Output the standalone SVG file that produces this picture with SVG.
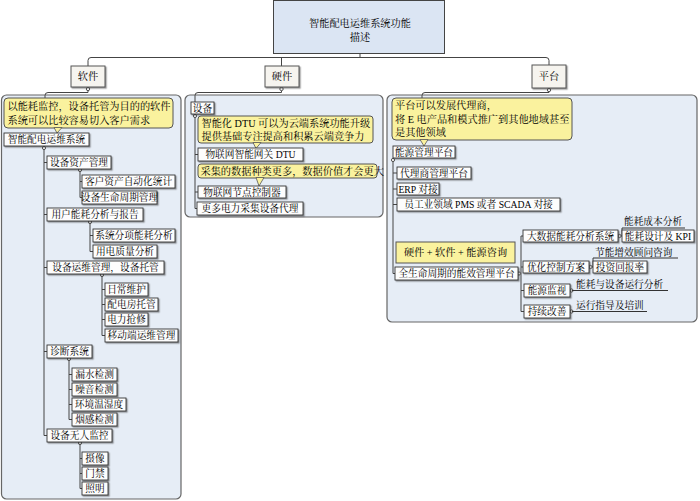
<svg xmlns="http://www.w3.org/2000/svg" width="700" height="501" viewBox="0 0 700 501">
<defs>
<filter id="sh" x="-10%" y="-20%" width="130%" height="160%">
<feDropShadow dx="1.2" dy="1.2" stdDeviation="0.4" flood-color="#333" flood-opacity="0.5"/>
</filter>
</defs>
<style>
text{font-family:"Liberation Serif","Noto Serif CJK SC","Noto Sans CJK SC",serif;font-size:9.7px;fill:#000}
.c{text-anchor:middle}
.root{fill:#dbe5f3;stroke:#444;stroke-width:1}
.cat{fill:#f6f4ef;stroke:#555;stroke-width:1;filter:url(#sh)}
.panel{fill:#e6edf6;stroke:#666;stroke-width:1.2}
.n{fill:#fdfdfd;stroke:#333;stroke-width:0.9;filter:url(#sh)}
.y{fill:#faf29e;stroke:#555;stroke-width:1}
.ln{fill:none;stroke:#444;stroke-width:1}
.ul{fill:none;stroke:#333;stroke-width:1}
.dot{fill:#fff;stroke:#444;stroke-width:0.9}
.tl{fill:#faf29e;stroke:#555;stroke-width:0.8}
.big{font-size:10.2px}
</style>

<!-- panels -->
<g id="panel-software"><rect class="panel" x="1.5" y="95" width="179.5" height="404" rx="5"/></g>
<g id="panel-hardware"><rect class="panel" x="185" y="95" width="198" height="122" rx="5"/></g>
<g id="panel-platform"><rect class="panel" x="387" y="95" width="310" height="227" rx="5"/></g>

<g id="connectors">
<path class="ln" d="M360,54 V57.5"/>
<path class="ln" d="M88,66 V60.5 Q88,57.5 91,57.5 H546 Q549,57.5 549,60.5 V65"/>
<path class="ln" d="M281.5,57.5 V66"/>
<path class="ln" d="M88,89 V92.5 H48 Q45,92.5 45,95.5 V98"/>
<path class="ln" d="M281.5,89 V92.5 H198 Q195,92.5 195,95.5 V102"/>
<path class="ln" d="M549,90 V92.5 H425 Q422,92.5 422,95.5 V98"/>
<path class="ln" d="M44,148 V435.5 M44,162.5 H47 M44,214.5 H47 M44,267.5 H47 M44,351.5 H47 M44,435.5 H47"/>
<path class="ln" d="M80,170 V197.5 M80,181.5 H82 M80,197.5 H82"/>
<path class="ln" d="M90,222 V251.5 M90,235.5 H93 M90,251.5 H93"/>
<path class="ln" d="M102,275 V335.5 M102,289.5 H105 M102,304.5 H105 M102,319.5 H105 M102,335.5 H105"/>
<path class="ln" d="M69,359 V419.5 M69,374.5 H72 M69,389.5 H72 M69,404.5 H72 M69,419.5 H72"/>
<path class="ln" d="M80,443 V488.5 M80,458.5 H82 M80,473.5 H82 M80,488.5 H82"/>
<path class="ln" d="M195,116 V208.5 M195,154.5 H198 M195,192 H198 M195,208.5 H197"/>
<path class="ln" d="M393,160 V273.5 M393,173 H397 M393,189 H397 M393,204.5 H397 M393,273.5 H395"/>
<path class="ln" d="M519,273.5 H521 M521,236 V311.5 M521,236 H523 M521,267 H523 M521,290.5 H524 M521,311.5 H524"/>
<path class="ln" d="M619,236 H622 M622,228 V236"/>
<path class="ln" d="M590,267 H593 M593,258 V267"/>
<path class="ln" d="M570,290.5 H572"/>
<path class="ln" d="M570,311.5 H572"/>
<circle class="dot" cx="88" cy="89" r="1.7"/>
<circle class="dot" cx="281.5" cy="89" r="1.7"/>
<circle class="dot" cx="549" cy="90" r="1.7"/>
<circle class="dot" cx="44" cy="148" r="1.6"/>
<circle class="dot" cx="80" cy="170" r="1.6"/>
<circle class="dot" cx="90" cy="222" r="1.6"/>
<circle class="dot" cx="102" cy="275" r="1.6"/>
<circle class="dot" cx="69" cy="359" r="1.6"/>
<circle class="dot" cx="80" cy="443" r="1.6"/>
<circle class="dot" cx="195" cy="116" r="1.6"/>
<circle class="dot" cx="393" cy="160" r="1.6"/>
<circle class="dot" cx="519" cy="273.5" r="1.6"/>
<circle class="dot" cx="619.5" cy="236" r="1.6"/>
<circle class="dot" cx="590.5" cy="267" r="1.6"/>
<circle class="dot" cx="571.5" cy="290.5" r="1.6"/>
<circle class="dot" cx="571.5" cy="311.5" r="1.6"/>
</g>

<g id="root"><rect class="root" x="273.5" y="0.5" width="171" height="53"/>
<text class="c big" x="360" y="27">智能配电运维系统功能</text>
<text class="c big" x="360" y="41">描述</text></g>

<g id="software"><rect class="cat" x="71" y="66" width="34" height="21"/><text class="c big" x="88" y="80">软件</text></g>
<g id="hardware"><rect class="cat" x="265" y="66" width="34" height="21"/><text class="c big" x="282" y="80">硬件</text></g>
<g id="platform"><rect class="cat" x="532" y="65" width="34" height="23"/><text class="c big" x="549" y="80">平台</text></g>

<g id="sw-callout"><rect class="y" x="4" y="98" width="169" height="30" rx="4"/>
<polygon class="tl" points="54,127.5 62,127.5 57,133"/>
<text class="big" x="7.5" y="109.5">以能耗监控，设备托管为目的的软件</text>
<text class="big" x="7.5" y="123.5">系统可以比较容易切入客户需求</text></g>
<g id="sw-system"><rect class="n" x="4" y="133" width="85" height="13"/><text class="c" x="46.5" y="143.2">智能配电运维系统</text></g>
<g id="sw-asset"><rect class="n" x="47" y="156" width="64" height="13"/><text class="c" x="79" y="166.2">设备资产管理</text></g>
<g id="sw-asset-1"><rect class="n" x="82" y="175" width="93" height="13"/><text class="c" x="128.5" y="185.2">客户资产自动化统计</text></g>
<g id="sw-asset-2"><rect class="n" x="82" y="191" width="75" height="13"/><text class="c" x="119.5" y="201.2">设备生命周期管理</text></g>
<g id="sw-energy"><rect class="n" x="47" y="208" width="96" height="13"/><text class="c" x="95" y="218.2">用户能耗分析与报告</text></g>
<g id="sw-energy-1"><rect class="n" x="93" y="229" width="82" height="13"/><text class="c" x="134" y="239.2">系统分项能耗分析</text></g>
<g id="sw-energy-2"><rect class="n" x="93" y="245" width="64" height="13"/><text class="c" x="125" y="255.2">用电质量分析</text></g>
<g id="sw-om"><rect class="n" x="47" y="261" width="117" height="13"/><text class="c" x="105.5" y="271.2">设备运维管理，设备托管</text></g>
<g id="sw-om-1"><rect class="n" x="105" y="283" width="43" height="13"/><text class="c" x="126.5" y="293.2">日常维护</text></g>
<g id="sw-om-2"><rect class="n" x="105" y="298" width="53" height="13"/><text class="c" x="131.5" y="308.2">配电房托管</text></g>
<g id="sw-om-3"><rect class="n" x="105" y="313" width="43" height="13"/><text class="c" x="126.5" y="323.2">电力抢修</text></g>
<g id="sw-om-4"><rect class="n" x="105" y="329" width="73" height="13"/><text class="c" x="141.5" y="339.2">移动端运维管理</text></g>
<g id="sw-diag"><rect class="n" x="47" y="345" width="45" height="13"/><text class="c" x="69.5" y="355.2">诊断系统</text></g>
<g id="sw-diag-1"><rect class="n" x="72" y="368" width="45" height="13"/><text class="c" x="94.5" y="378.2">漏水检测</text></g>
<g id="sw-diag-2"><rect class="n" x="72" y="383" width="45" height="13"/><text class="c" x="94.5" y="393.2">噪音检测</text></g>
<g id="sw-diag-3"><rect class="n" x="72" y="398" width="54" height="13"/><text class="c" x="99" y="408.2">环境温湿度</text></g>
<g id="sw-diag-4"><rect class="n" x="72" y="413" width="45" height="13"/><text class="c" x="94.5" y="423.2">烟感检测</text></g>
<g id="sw-mon"><rect class="n" x="47" y="429" width="65" height="13"/><text class="c" x="79.5" y="439.2">设备无人监控</text></g>
<g id="sw-mon-1"><rect class="n" x="82" y="452" width="26" height="13"/><text class="c" x="95" y="462.2">摄像</text></g>
<g id="sw-mon-2"><rect class="n" x="82" y="467" width="26" height="13"/><text class="c" x="95" y="477.2">门禁</text></g>
<g id="sw-mon-3"><rect class="n" x="82" y="482" width="26" height="13"/><text class="c" x="95" y="492.2">照明</text></g>

<g id="hw-device"><rect class="n" x="191" y="102" width="23" height="12"/><text class="c" x="202.5" y="111.7">设备</text></g>
<g id="hw-callout-1"><rect class="y" x="198" y="116" width="175" height="27" rx="3"/>
<polygon class="tl" points="253,142.5 261,142.5 256,148.5"/>
<text class="big" x="201.5" y="127">智能化 DTU 可以为云端系统功能升级</text>
<text class="big" x="201.5" y="140">提供基础专注提高和积累云端竞争力</text></g>
<g id="hw-gateway"><rect class="n" x="198" y="148" width="105" height="13"/><text class="c" x="250.5" y="158.2">物联网智能网关 DTU</text></g>
<g id="hw-callout-2"><rect class="y" x="198" y="164" width="179" height="14" rx="3"/>
<polygon class="tl" points="256,177.5 264,177.5 259,186"/>
<text class="big" x="200.5" y="174.8">采集的数据种类更多，数据价值才会更大</text></g>
<g id="hw-node"><rect class="n" x="198" y="186" width="88" height="12"/><text class="c" x="242" y="195.7">物联网节点控制器</text></g>
<g id="hw-agent"><rect class="n" x="197" y="202" width="106" height="13"/><text class="c" x="250" y="212.2">更多电力采集设备代理</text></g>

<g id="pf-callout"><rect class="y" x="392" y="98" width="180" height="42" rx="4"/>
<polygon class="tl" points="420,139.5 428,139.5 424,146"/>
<text class="big" x="395" y="109">平台可以发展代理商，</text>
<text class="big" x="395" y="122.5">将 E 电产品和模式推广到其他地域甚至</text>
<text class="big" x="395" y="136">是其他领域</text></g>
<g id="pf-ems"><rect class="n" x="393" y="146" width="62" height="12"/><text class="c" x="424" y="155.7">能源管理平台</text></g>
<g id="pf-agent"><rect class="n" x="397" y="167" width="74" height="12"/><text class="c" x="434" y="176.7">代理商管理平台</text></g>
<g id="pf-erp"><rect class="n" x="397" y="183" width="42" height="12"/><text class="c" x="418" y="192.7">ERP 对接</text></g>
<g id="pf-pms"><rect class="n" x="397" y="198" width="163" height="13"/><text class="c" x="478.5" y="208.2">员工业领域 PMS 或者 SCADA 对接</text></g>
<g id="pf-callout-2"><rect class="y" x="396" y="242" width="119" height="21"/>
<text class="c big" x="455.5" y="256">硬件 + 软件 + 能源咨询</text></g>
<g id="pf-lifecycle"><rect class="n" x="395" y="267" width="123" height="13"/><text class="c" x="456.5" y="277.2">全生命周期的能效管理平台</text></g>
<g id="pf-bigdata"><rect class="n" x="523" y="230" width="95" height="12"/><text class="c" x="570.5" y="239.7">大数据能耗分析系统</text></g>
<g id="pf-optimize"><rect class="n" x="523" y="261" width="66" height="12"/><text class="c" x="556" y="270.7">优化控制方案</text></g>
<g id="pf-monitor"><rect class="n" x="524" y="284" width="46" height="13"/><text class="c" x="547" y="294.2">能源监视</text></g>
<g id="pf-improve"><rect class="n" x="524" y="305" width="46" height="13"/><text class="c" x="547" y="315.2">持续改善</text></g>
<g id="pf-cost"><text x="624" y="225">能耗成本分析</text><path class="ul" d="M622,228 H685"/></g>
<g id="pf-kpi"><rect class="n" x="622" y="230" width="72" height="12"/><text class="c" x="658" y="239.7">能耗设计及 KPI</text></g>
<g id="pf-consult"><text x="595" y="255.5">节能增效顾问咨询</text><path class="ul" d="M593,258 H678"/></g>
<g id="pf-roi"><rect class="n" x="593" y="261" width="54" height="12"/><text class="c" x="620" y="270.7">投资回报率</text></g>
<g id="pf-analysis"><text x="576" y="287.5">能耗与设备运行分析</text><path class="ul" d="M572,290.5 H668"/></g>
<g id="pf-training"><text x="576" y="308.5">运行指导及培训</text><path class="ul" d="M572,311.5 H647"/></g>
</svg>
